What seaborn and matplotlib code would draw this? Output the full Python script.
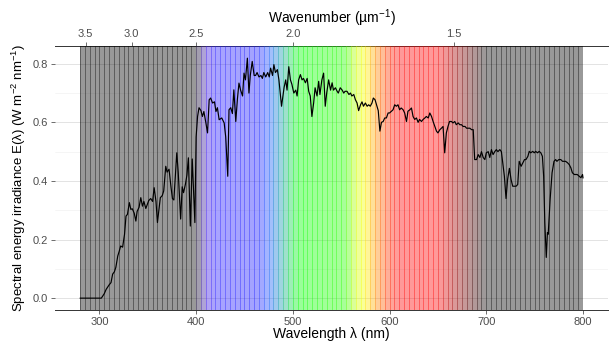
import numpy as np
import pandas as pd
import matplotlib
matplotlib.use('Agg')
import matplotlib.pyplot as plt
import seaborn as sns
from matplotlib.ticker import MultipleLocator, FormatStrFormatter

# solar spectrum (nm, W m-2 nm-1)
wavelength = [
    280, 290, 296, 302, 305, 307, 310, 312, 313.7, 315.5, 317, 319, 320.5, 322, 324,
    326, 327.5, 329, 331, 332.5, 334, 336, 337.7, 339, 341, 342.8, 344.5, 346, 348,
    349.5, 351, 353, 355, 356.6, 358.5, 360, 361.5, 363, 365, 366.5, 368.6, 370, 372,
    374, 375.5, 377, 379, 380, 381.5, 384, 385.6, 387, 389, 390.5, 392, 394, 396,
    398.7, 400, 401.5, 403, 405, 406.5, 408, 410, 411.8, 413.5, 415, 417, 419, 420.5,
    422, 423.8, 426.5, 429, 430.6, 432.7, 434, 435.8, 437.5, 439, 441, 442.7, 444.3,
    446, 448, 449.5, 451, 453, 454.6, 456, 458, 460, 461.5, 463, 465, 467, 468.5, 470,
    472, 474, 475.6, 477, 479, 480.4, 482, 484, 485.6, 487, 488.3, 491, 492.6, 494,
    495.8, 497.5, 499, 501, 503, 504.4, 506, 507.8, 509.5, 511, 513, 514.8, 516.4, 518,
    519.7, 521.5, 523, 525, 526.7, 528, 530, 531.8, 533.5, 535, 537, 539, 540.6, 542,
    544, 545.8, 547, 549, 551, 552.6, 554, 556, 558, 559.6, 561, 563, 564.7, 566.4,
    568, 570, 571.5, 573, 575, 576.8, 578.4, 580, 581.8, 583.2, 585, 586.5, 588.3, 590,
    591.6, 593.4, 595, 596.7, 598.5, 600, 602, 603.6, 605.3, 607, 608.7, 610.4, 612,
    614, 615.6, 617.5, 619, 621, 622.6, 624.3, 626, 627.8, 629.5, 631, 633, 634.7,
    636.5, 638, 640, 641.6, 643.4, 645, 646.8, 648.5, 650, 652, 653.6, 655.3, 657,
    658.7, 660.4, 662, 664, 665.6, 667.4, 669, 671, 672.6, 674.4, 676, 678, 679.6,
    681.3, 683, 684.8, 686.5, 688, 690, 691.6, 693.4, 695, 696.8, 698.5, 700, 702,
    703.6, 705.3, 707, 708.7, 710.4, 712, 714, 715.6, 717, 718.7, 720.4, 722, 723.9,
    725.6, 727.3, 729, 730.8, 732.5, 734, 736, 737.8, 739.5, 741, 743, 744.4, 746, 748,
    749.6, 751, 753, 754.6, 756.4, 758, 759.3, 760.5, 762, 763.2, 764, 766, 768, 770,
    771.7, 773, 775, 777, 778.8, 780.5, 782, 784, 785.7, 787.4, 789, 791, 792.5, 794,
    796, 797.8, 799.5, 800,
]
irradiance = [
    0.0, 0.0, 0.0, 0.0, 0.015, 0.03, 0.045, 0.053, 0.082, 0.09, 0.105, 0.144, 0.16,
    0.178, 0.174, 0.218, 0.28, 0.286, 0.326, 0.303, 0.305, 0.29, 0.263, 0.296, 0.31,
    0.343, 0.314, 0.33, 0.306, 0.32, 0.333, 0.34, 0.33, 0.377, 0.33, 0.258, 0.30, 0.343,
    0.35, 0.366, 0.45, 0.43, 0.44, 0.38, 0.34, 0.335, 0.44, 0.496, 0.43, 0.27, 0.38,
    0.36, 0.39, 0.42, 0.479, 0.246, 0.475, 0.258, 0.55, 0.62, 0.65, 0.64, 0.62, 0.637,
    0.6, 0.564, 0.677, 0.683, 0.666, 0.67, 0.637, 0.65, 0.609, 0.615, 0.598, 0.55,
    0.416, 0.643, 0.65, 0.63, 0.711, 0.603, 0.68, 0.734, 0.71, 0.69, 0.768, 0.745,
    0.819, 0.70, 0.76, 0.808, 0.76, 0.76, 0.77, 0.755, 0.76, 0.75, 0.77, 0.755, 0.77,
    0.755, 0.785, 0.76, 0.797, 0.77, 0.78, 0.745, 0.70, 0.655, 0.72, 0.745, 0.71, 0.79,
    0.745, 0.73, 0.70, 0.71, 0.69, 0.745, 0.763, 0.745, 0.75, 0.735, 0.75, 0.706, 0.69,
    0.62, 0.666, 0.718, 0.69, 0.74, 0.695, 0.745, 0.768, 0.655, 0.70, 0.745, 0.71,
    0.735, 0.71, 0.718, 0.706, 0.70, 0.718, 0.71, 0.70, 0.706, 0.706, 0.695, 0.70, 0.69,
    0.695, 0.677, 0.666, 0.64, 0.66, 0.67, 0.655, 0.666, 0.655, 0.66, 0.655, 0.666,
    0.683, 0.677, 0.66, 0.64, 0.57, 0.60, 0.603, 0.615, 0.615, 0.632, 0.632, 0.638,
    0.643, 0.66, 0.655, 0.66, 0.643, 0.649, 0.643, 0.632, 0.603, 0.638, 0.643, 0.649,
    0.62, 0.61, 0.615, 0.60, 0.61, 0.603, 0.61, 0.615, 0.62, 0.615, 0.632, 0.62, 0.603,
    0.586, 0.57, 0.564, 0.575, 0.58, 0.586, 0.496, 0.564, 0.586, 0.603, 0.603, 0.598,
    0.603, 0.592, 0.598, 0.592, 0.592, 0.586, 0.586, 0.58, 0.58, 0.58, 0.575, 0.575,
    0.473, 0.473, 0.49, 0.48, 0.50, 0.48, 0.473, 0.496, 0.50, 0.48, 0.507, 0.49, 0.50,
    0.507, 0.50, 0.507, 0.50, 0.462, 0.416, 0.34, 0.405, 0.443, 0.405, 0.382, 0.382,
    0.382, 0.388, 0.467, 0.45, 0.462, 0.473, 0.473, 0.484, 0.501, 0.496, 0.501, 0.496,
    0.501, 0.496, 0.501, 0.496, 0.484, 0.416, 0.258, 0.139, 0.224, 0.218, 0.337, 0.428,
    0.467, 0.473, 0.467, 0.473, 0.473, 0.467, 0.467, 0.467, 0.462, 0.456, 0.445, 0.428,
    0.422, 0.422, 0.422, 0.416, 0.411, 0.422, 0.41,
]

x_ticks = [300, 400, 500, 600, 700, 800]
y_ticks = [0.0, 0.2, 0.4, 0.6, 0.8]
wavenumber_ticks = [1.5, 2.0, 2.5, 3.0, 3.5]

# 5 nm stripes of the wavelength colour guide
band_edges = np.arange(280, 801, 5)

# approximate colour of each wavelength (UV / IR shown black)
stop_wl = [400, 405, 412, 420, 465, 476, 486, 496, 505, 555, 565, 575, 585, 600, 610, 650, 700]
stop_rgb = [
    (0, 0, 0), (0.2, 0.1, 0.45), (0.25, 0.1, 0.9), (0.15, 0.1, 1), (0.1, 0.1, 1),
    (0.1, 0.35, 1), (0.05, 0.55, 0.75), (0.05, 0.8, 0.35), (0, 1, 0), (0.15, 1, 0),
    (0.8, 1, 0), (1, 1, 0), (1, 0.6, 0), (1, 0.15, 0), (1, 0, 0), (1, 0, 0), (0, 0, 0),
]


def wl_colour(w):
    return tuple(float(np.interp(w, stop_wl, [c[i] for c in stop_rgb])) for i in range(3))


def inverse(x):
    x = np.asarray(x, dtype=float)
    with np.errstate(divide='ignore', invalid='ignore'):
        return np.where(x > 0, 1000.0 / np.where(x > 0, x, 1), np.inf)


df = pd.DataFrame({'wavelength': wavelength, 'irradiance': irradiance})

sns.set_theme(style='white')
plt.rcParams['font.family'] = ['Liberation Sans', 'DejaVu Sans']
plt.rcParams['mathtext.default'] = 'regular'

fig, ax = plt.subplots(figsize=(6.1, 3.45), dpi=100)
fig.subplots_adjust(left=0.09, right=0.997, bottom=0.101, top=0.867)

for lo, hi in zip(band_edges[:-1], band_edges[1:]):
    c = wl_colour((lo + hi) / 2)
    ax.axvspan(lo, hi, color=c, alpha=0.4, lw=0, zorder=1)
    ax.axvline(lo, color=c, alpha=0.5, lw=0.55, zorder=1.5)

sns.lineplot(data=df, x='wavelength', y='irradiance', color='black', lw=0.85,
             ax=ax, zorder=3, estimator=None)

ax.set_xlim(254, 826)
ax.set_ylim(-0.041, 0.861)
ax.set_xticks(x_ticks)
ax.set_yticks(y_ticks)
ax.yaxis.set_major_formatter(FormatStrFormatter('%.1f'))
ax.yaxis.set_minor_locator(MultipleLocator(0.1))
ax.set_axisbelow(True)
ax.yaxis.grid(True, which='major', color='#E3E3E3', lw=0.7, zorder=0)
ax.yaxis.grid(True, which='minor', color='#F2F2F2', lw=0.5, zorder=0)
ax.xaxis.grid(False)

for s in ['left', 'right', 'top']:
    ax.spines[s].set_visible(False)
ax.spines['bottom'].set_color('#333333')
ax.spines['bottom'].set_linewidth(0.7)

ax.tick_params(axis='both', which='major', left=True, bottom=True, direction='out',
               length=3, width=0.5, color='#333333', labelsize=8,
               labelcolor='#4D4D4D', pad=2)
ax.tick_params(axis='y', which='minor', left=False)

ax.set_xlabel('Wavelength λ (nm)', fontsize=10, color='black', labelpad=0)
ax.set_ylabel('Spectral energy irradiance E(λ) (W m$^{-2}$ nm$^{-1}$)',
              fontsize=9.5, color='black', labelpad=3)

secax = ax.secondary_xaxis('top', functions=(inverse, inverse))
secax.set_xticks(wavenumber_ticks)
secax.xaxis.set_major_formatter(FormatStrFormatter('%.1f'))
secax.tick_params(axis='x', top=True, direction='out', length=3, width=0.5,
                  color='#333333', labelsize=8, labelcolor='#4D4D4D', pad=2)
secax.spines['top'].set_color('#333333')
secax.spines['top'].set_linewidth(0.7)
secax.set_xlabel('Wavenumber (µm$^{-1}$)', fontsize=10, color='black', labelpad=4)

fig.savefig('out.png', dpi=100)
